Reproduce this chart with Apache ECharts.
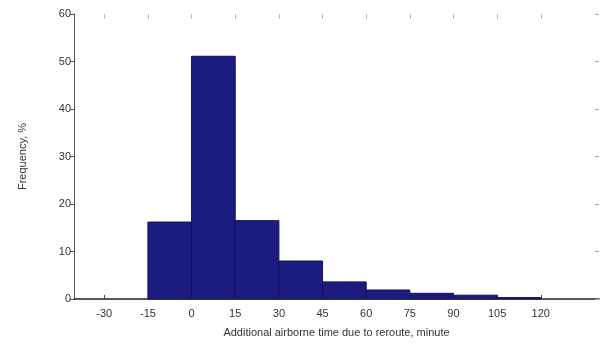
<!DOCTYPE html>
<html><head><meta charset="utf-8">
<script src="https://cdn.jsdelivr.net/npm/echarts@6/dist/echarts.min.js"></script>
<style>html,body{margin:0;padding:0;background:#fff}#c{width:600px;height:351px}</style>
</head><body><div id="c"></div>
<script>
const binStarts = [-15, 0, 15, 30, 45, 60, 75, 90, 105];
const binWidth = 15;
const frequency = [16.2, 51.1, 16.5, 8.0, 3.6, 1.9, 1.2, 0.8, 0.3];
const xTicks = [-30, -15, 0, 15, 30, 45, 60, 75, 90, 105, 120];
const yTicks = [0, 10, 20, 30, 40, 50, 60];

const data = binStarts.map((s, i) => [s, s + binWidth, frequency[i]]);
const font = 'Liberation Sans, Arial, sans-serif';
const chart = echarts.init(document.getElementById('c'));
chart.setOption({
  animation: false,
  grid: { left: 74, right: 1, top: 14, bottom: 52 },
  xAxis: [{
    type: 'value', min: -40.4, max: 140, position: 'bottom',
    axisLine: { show: true, onZero: false, lineStyle: { color: '#222', width: 1.5 } },
    axisTick: { show: true, inside: true, length: 4, customValues: xTicks, lineStyle: { color: '#444' } },
    axisLabel: { customValues: xTicks, color: '#333', fontFamily: font, fontSize: 11, margin: 9 },
    splitLine: { show: false },
    name: 'Additional airborne time due to reroute, minute',
    nameLocation: 'middle', nameGap: 28,
    nameTextStyle: { color: '#333', fontFamily: font, fontSize: 11 }
  }, {
    type: 'value', min: -40.4, max: 140, position: 'top',
    axisLine: { show: false, onZero: false },
    axisTick: { show: true, inside: true, length: 5, customValues: xTicks, lineStyle: { color: '#bbb' } },
    axisLabel: { show: false }, splitLine: { show: false }
  }],
  yAxis: [{
    type: 'value', min: 0, max: 60, interval: 10, position: 'left',
    axisLine: { show: true, onZero: false, lineStyle: { color: '#555', width: 1 } },
    axisTick: { show: true, length: 4, customValues: yTicks, lineStyle: { color: '#555' } },
    axisLabel: { color: '#333', fontFamily: font, fontSize: 11, margin: 3 },
    splitLine: { show: false },
    name: 'Frequency, %', nameLocation: 'middle', nameGap: 46,
    nameTextStyle: { color: '#333', fontFamily: font, fontSize: 11 }
  }, {
    type: 'value', min: 0, max: 60, interval: 10, position: 'right',
    axisLine: { show: false, onZero: false },
    axisTick: { show: true, inside: true, length: 4, lineStyle: { color: '#aaa' } },
    axisLabel: { show: false }, splitLine: { show: false }
  }],
  series: [{
    type: 'custom',
    xAxisIndex: 0, yAxisIndex: 0,
    data: data,
    encode: { x: [0, 1], y: 2 },
    renderItem: function (params, api) {
      const p0 = api.coord([api.value(0), api.value(2)]);
      const p1 = api.coord([api.value(1), 0]);
      return {
        type: 'rect',
        shape: { x: p0[0], y: p0[1], width: p1[0] - p0[0], height: p1[1] - p0[1] },
        style: { fill: '#1c1c80', stroke: '#121260', lineWidth: 1 }
      };
    }
  }]
});
</script></body></html>
